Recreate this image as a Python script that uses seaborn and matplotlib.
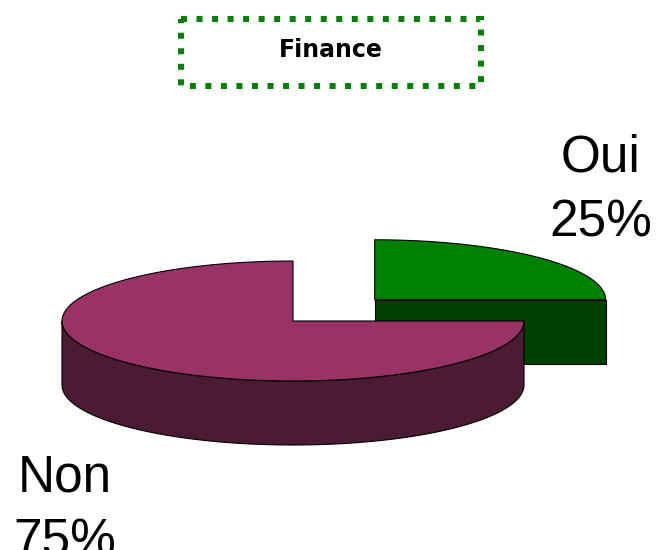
import numpy as np
import matplotlib
matplotlib.use("Agg")
import matplotlib.pyplot as plt
import seaborn as sns
from matplotlib.patches import Polygon, Rectangle

# Data
labels = ["Oui", "Non"]
values = [25, 75]
top_colors = ["#008000", "#993366"]
side_colors = ["#004000", "#4b1a33"]
title = "Finance"

sns.set_theme(style="white")
plt.rcParams['font.family'] = ['Liberation Sans', 'DejaVu Sans']

fig = plt.figure(figsize=(6.58, 5.5), dpi=100)
ax = fig.add_axes([0, 0, 1, 1])
ax.set_xlim(0, 658)
ax.set_ylim(550, 0)
ax.set_axis_off()

# pie geometry (pixel space)
cx0, cy0 = 293, 321
a, b = 231, 60
depth = 64
explode = [0.5, 0.0]


def arc(cx, cy, t1, t2, n=120):
    t = np.radians(np.linspace(t1, t2, n))
    return np.column_stack([cx + a * np.cos(t), cy - b * np.sin(t)])


# slice angles: start at 90 deg, clockwise
fracs = np.array(values) / np.sum(values)
ends = 90 - 360 * np.cumsum(fracs)
starts = np.concatenate([[90], ends[:-1]])

slices = []
for i, (hi, lo) in enumerate(zip(starts, ends)):
    mid = np.radians((hi + lo) / 2)
    cx = cx0 + explode[i] * a * np.cos(mid)
    cy = cy0 - explode[i] * b * np.sin(mid)
    slices.append((cy, i, cx, lo % 360 if lo < 0 else lo, (lo % 360 if lo < 0 else lo) + (hi - lo)))

# draw back slices first
for cy, i, cx, lo, hi in sorted(slices):
    kw = dict(edgecolor="black", linewidth=0.8, joinstyle="round")
    # outer curved side: front half (180..360)
    s1, s2 = max(lo, 180), min(hi, 360)
    if s2 > s1:
        top_arc = arc(cx, cy, s1, s2)
        bot_arc = top_arc[::-1] + [0, depth]
        ax.add_patch(Polygon(np.vstack([top_arc, bot_arc]), facecolor=side_colors[i], **kw))
    # radial cut faces
    for ang, vis in ((lo, np.cos(np.radians(lo)) > 1e-6), (hi, np.cos(np.radians(hi)) < -1e-6)):
        if vis:
            ex, ey = cx + a * np.cos(np.radians(ang)), cy - b * np.sin(np.radians(ang))
            face = [(cx, cy), (ex, ey), (ex, ey + depth), (cx, cy + depth)]
            ax.add_patch(Polygon(face, facecolor=side_colors[i], **kw))
    # top face
    pts = np.vstack([[cx, cy], arc(cx, cy, lo, hi), [cx, cy]])
    ax.add_patch(Polygon(pts, facecolor=top_colors[i], **kw))

# labels
ax.text(601, 134, f"{labels[0]}\n{values[0]}%", ha="center", va="top",
        fontsize=37, linespacing=1.4, color="black")
ax.text(65, 453, f"{labels[1]}\n{values[1]}%", ha="center", va="top",
        fontsize=37, linespacing=1.4, color="black")

# title box
ax.add_patch(Rectangle((181, 18.5), 300, 67.5, fill=False, edgecolor="#008000",
                       linewidth=4.3, linestyle=(0, (1, 1.6)), capstyle="butt"))
ax.text(331, 50, title, ha="center", va="center", fontsize=17,
        fontweight="bold", family="DejaVu Sans", color="black")

fig.savefig("out.png", dpi=100)
